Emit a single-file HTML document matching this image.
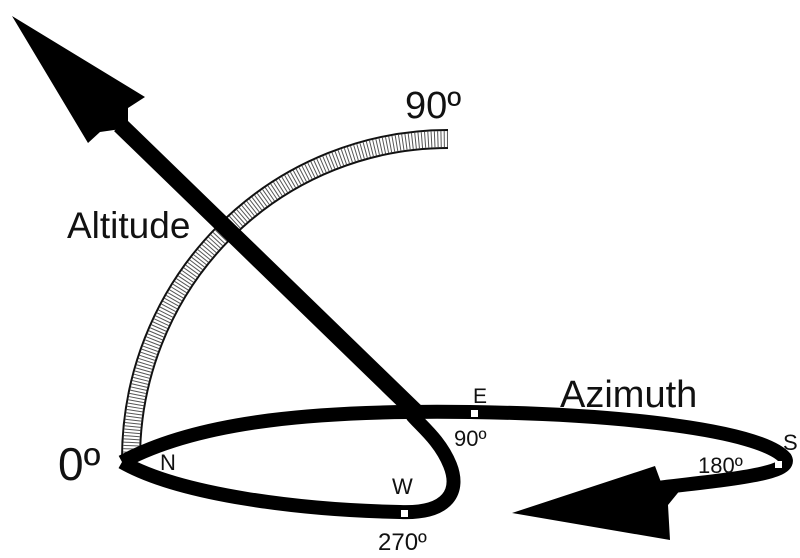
<!DOCTYPE html>
<html><head><style>body{margin:0;background:#fff}svg{display:block}text{font-family:"Liberation Sans",sans-serif;fill:#111}</style></head><body>
<svg width="800" height="558" viewBox="0 0 800 558" xmlns="http://www.w3.org/2000/svg">
<!-- altitude arc -->
<path d="M131 459 A317 320 0 0 1 448 139" fill="none" stroke="#111" stroke-width="20"/>
<path d="M131 459 A317 320 0 0 1 448 139" fill="none" stroke="#fff" stroke-width="16"/>
<path d="M131 459 A317 320 0 0 1 448 139" fill="none" stroke="#555" stroke-width="16" stroke-dasharray="1 2.2"/>
<!-- azimuth loop -->
<path d="M122 462 C200 420 320 410 470 412 C620 414 760 430 785 458 C795 475 720 480 640 490" fill="none" stroke="#000" stroke-width="14" stroke-linejoin="round"/>
<path d="M122 462 C180 495 300 510 400 512 C450 514 460 490 450 465 C440 440 420 425 412 415" fill="none" stroke="#000" stroke-width="14" stroke-linejoin="round"/>
<polygon points="512,513 655,466 662,485 690,478 668,505 670,540" fill="#000"/>
<!-- altitude arrow -->
<line x1="120" y1="125" x2="422" y2="418" stroke="#000" stroke-width="17"/>
<polygon points="12,16 145,97 128,108 128,128 100,132 88,143" fill="#000"/>
<!-- markers -->
<rect x="471" y="410" width="7" height="7" fill="#fff"/>
<rect x="401" y="510" width="7" height="7" fill="#fff"/>
<rect x="775" y="461" width="7" height="7" fill="#fff"/>
<text x="405" y="118" font-size="38">90º</text>
<text x="67" y="238" font-size="37">Altitude</text>
<text x="58" y="480" font-size="46">0º</text>
<text x="560" y="407" font-size="38">Azimuth</text>
<text x="473" y="403" font-size="21">E</text>
<text x="454" y="446" font-size="22">90º</text>
<text x="160" y="470" font-size="22">N</text>
<text x="392" y="494" font-size="22">W</text>
<text x="378" y="550" font-size="24">270º</text>
<text x="698" y="473" font-size="22">180º</text>
<text x="783" y="450" font-size="22">S</text>
</svg>
</body></html>
